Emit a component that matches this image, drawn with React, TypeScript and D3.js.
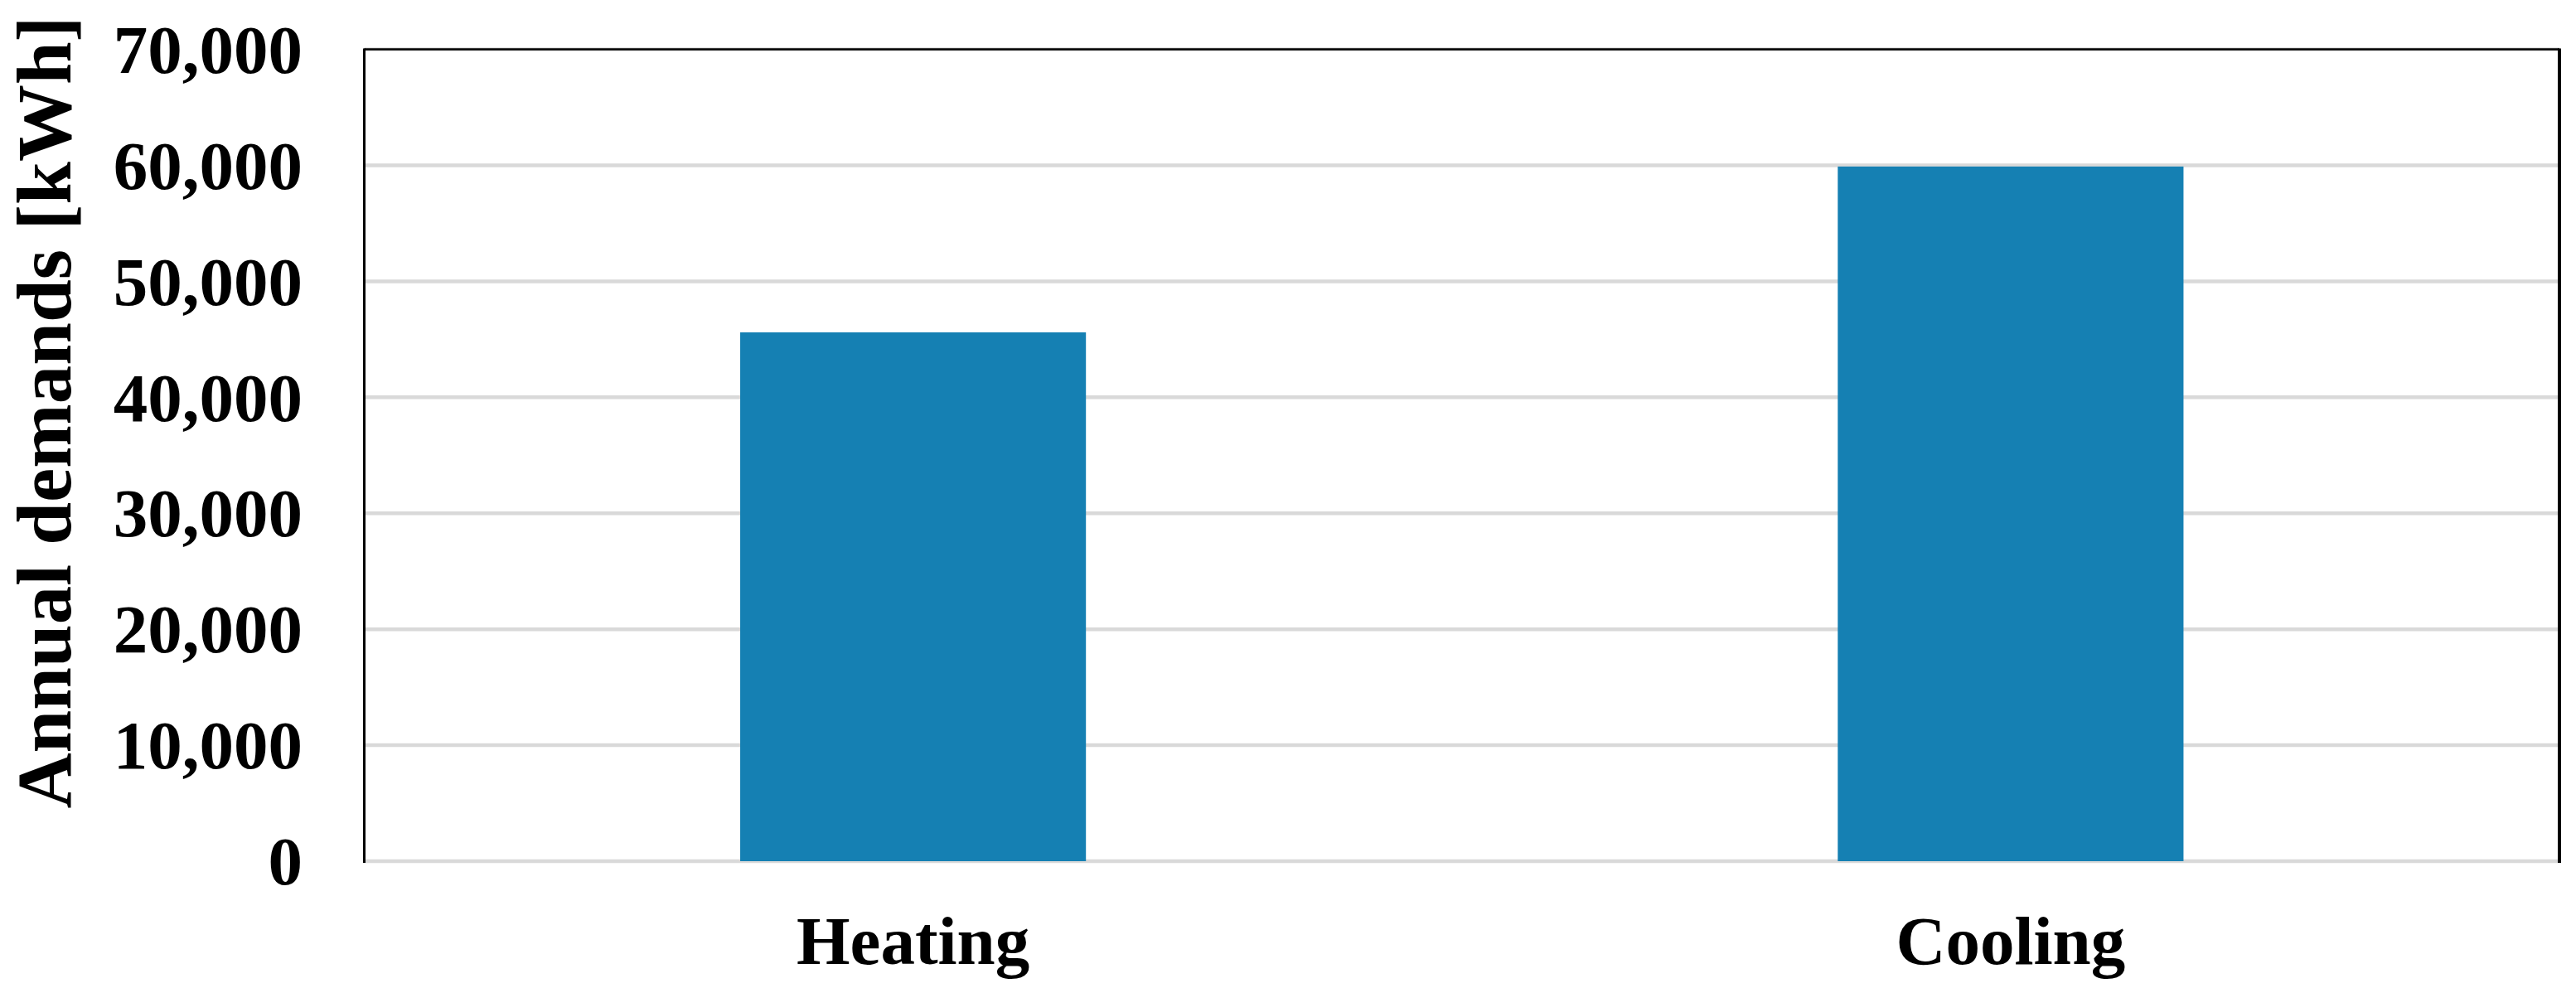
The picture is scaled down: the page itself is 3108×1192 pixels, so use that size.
import React from 'react';
import * as d3 from 'd3';

// data
const categories = ['Heating', 'Cooling'];
const demands = [45600, 59900];
const yTicks = [0, 10000, 20000, 30000, 40000, 50000, 60000, 70000];
const yTitle = 'Annual demands [kWh]';

const W = 3108;
const H = 1192;
const plot = { left: 439.5, right: 3088, top: 59.6, bottom: 1039 };
const font = '"Liberation Serif", "Times New Roman", serif';

export default function App() {
  const x = d3.scaleBand<string>()
    .domain(categories)
    .range([plot.left, plot.right])
    .paddingInner(0.685)
    .paddingOuter(0.3425);

  const y = d3.scaleLinear()
    .domain([0, 70000])
    .range([plot.bottom, plot.top]);

  const fmt = d3.format(',');

  return (
    <div style={{ position: 'absolute', left: 0, top: 0 }}>
      <svg width={W} height={H} style={{ display: 'block', background: '#fff' }}>
        {/* gridlines */}
        {yTicks.map(t => (
          <line key={'g' + t} x1={plot.left} x2={plot.right} y1={y(t)} y2={y(t)}
            stroke="#d9d9d9" strokeWidth={4.5} />
        ))}

        {/* bars */}
        {categories.map((c, i) => (
          <rect key={c} x={x(c)} y={y(demands[i])} width={x.bandwidth()}
            height={y(0) - y(demands[i])} fill="#1580b3" />
        ))}

        {/* frame */}
        <line x1={plot.left} x2={plot.right} y1={plot.top} y2={plot.top} stroke="#000" strokeWidth={2.5} />
        <line x1={plot.left} x2={plot.left} y1={plot.top - 1} y2={plot.bottom + 2} stroke="#000" strokeWidth={3} />
        <line x1={plot.right} x2={plot.right} y1={plot.top - 1} y2={plot.bottom + 2} stroke="#000" strokeWidth={4} />

        {/* y tick labels */}
        {yTicks.map(t => (
          <text key={'t' + t} x={365} y={y(t)} dy="0.34em" textAnchor="end"
            fontFamily={font} fontWeight="bold" fontSize={83} fill="#000">{fmt(t)}</text>
        ))}

        {/* x labels */}
        {categories.map(c => (
          <text key={'l' + c} x={(x(c) as number) + x.bandwidth() / 2} y={1163} textAnchor="middle"
            fontFamily={font} fontWeight="bold" fontSize={83} fill="#000">{c}</text>
        ))}

        {/* y title */}
        <text transform={`translate(85, 497.5) rotate(-90)`} textAnchor="middle"
          fontFamily={font} fontWeight="bold" fontSize={93} fill="#000">{yTitle}</text>
      </svg>
    </div>
  );
}
